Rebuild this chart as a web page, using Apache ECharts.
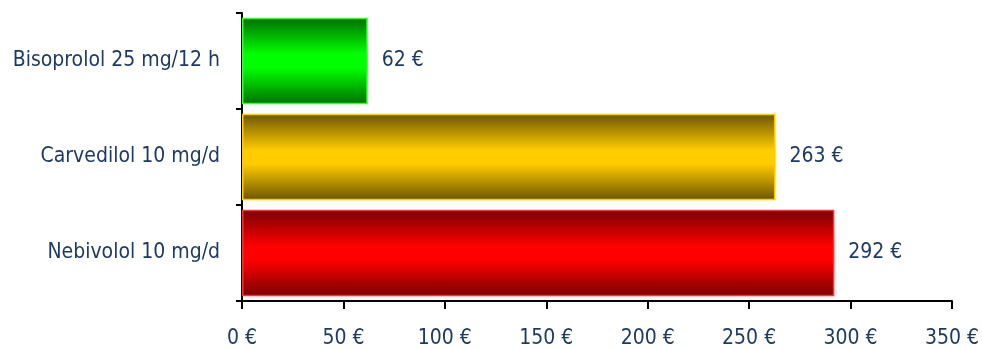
<!DOCTYPE html>
<html><head><meta charset="utf-8">
<script src="https://cdn.jsdelivr.net/npm/echarts@6/dist/echarts.min.js"></script>
<style>html,body{margin:0;padding:0;background:#fff}#c{width:982px;height:349px}</style>
</head><body><div id="c"></div>
<script>
var categories = ['Bisoprolol 25 mg/12 h', 'Carvedilol 10 mg/d', 'Nebivolol 10 mg/d'];
var values = [62, 263, 292];
var xTicks = [0, 50, 100, 150, 200, 250, 300, 350];
var palette = [
  {edge: '#006e00', mid: '#00ff00', border: '#33ff33'},
  {edge: '#6b5500', mid: '#ffcc00', border: '#ffcc00'},
  {edge: '#780000', mid: '#ff0000', border: '#ff3030'}
];
var textColor = '#1f3a63';
var font = 'DejaVu Sans Condensed';
var fs = 21;
function grad(p){
  return new echarts.graphic.LinearGradient(0,0,0,1,[
    {offset:0,color:p.edge},{offset:0.42,color:p.mid},{offset:0.58,color:p.mid},{offset:1,color:p.edge}
  ]);
}
var chart = echarts.init(document.getElementById('c'));
chart.setOption({
  animation:false,
  grid:{left:242,right:30,top:13,bottom:46,containLabel:false},
  xAxis:{type:'value',min:xTicks[0],max:xTicks[xTicks.length-1],interval:50,
    axisLine:{show:true,lineStyle:{color:'#000',width:2}},
    axisTick:{show:true,length:8,lineStyle:{color:'#000',width:2}},
    splitLine:{show:false},
    axisLabel:{color:textColor,fontFamily:font,fontSize:fs,margin:27,formatter:function(v){return v+' €';}}
  },
  yAxis:{type:'category',data:categories,inverse:true,
    axisLine:{show:true,lineStyle:{color:'#000',width:2}},
    axisTick:{show:true,length:6,lineStyle:{color:'#000',width:2}},
    axisLabel:{color:textColor,fontFamily:font,fontSize:fs,margin:22,padding:[4,0,0,0]}
  },
  series:[{type:'bar',barCategoryGap:'10%',
    data:values.map(function(v,i){return {value:v,itemStyle:{color:grad(palette[i]),borderColor:palette[i].border,borderWidth:1.5}};}),
    label:{show:true,position:'right',distance:14,color:textColor,fontFamily:font,fontSize:fs,padding:[4,0,0,0],formatter:function(p){return p.value+' €';}}
  }]
});
</script></body></html>
